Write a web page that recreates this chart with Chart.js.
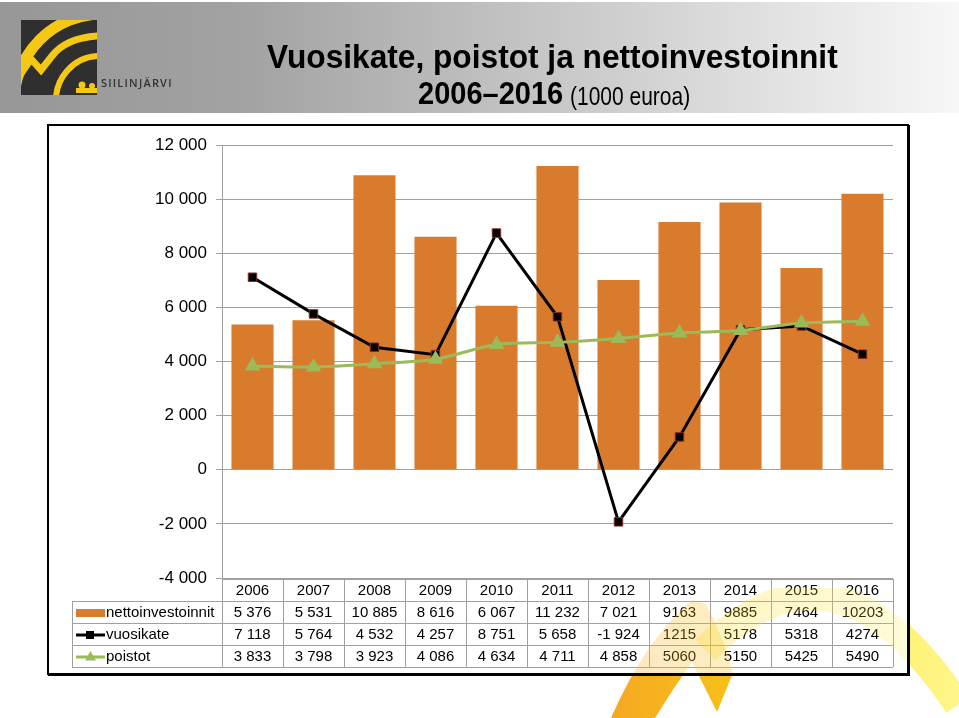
<!DOCTYPE html>
<html>
<head>
<meta charset="utf-8">
<script src="https://cdn.jsdelivr.net/npm/chart.js@4/dist/chart.umd.min.js"></script>
<style>
  body { margin: 0; width: 959px; height: 718px; position: relative; overflow: hidden; background: #fff; font-family: 'Liberation Sans', Arial, sans-serif; }
  #header { position: absolute; left: 0; top: 2px; width: 959px; height: 111px;
    background: linear-gradient(to right, #979797 0%, #a2a2a2 25%, #c4c4c4 55%, #e6e6e6 85%, #f7f7f7 100%); }
  #deco, #overlay { position: absolute; left: 0; top: 0; pointer-events: none; }
  .tt { position: absolute; white-space: nowrap; color: #000; transform-origin: 0 0; line-height: 1; }
  #t1 { left: 267px; top: 40px; font-size: 33px; font-weight: bold; }
  #t2 { left: 418px; top: 77px; font-size: 32px; font-weight: bold; }
  #t3 { left: 570px; top: 84px; font-size: 25px; }
  #box { position: absolute; left: 47px; top: 124px; width: 862px; height: 551px; box-sizing: border-box;
    border: 2px solid #000; box-shadow: 1px 1px 0 #000; background: #fff; }
  #chartWrap { position: relative; width: 858px; height: 547px; }
</style>
</head>
<body>
<div id="header"></div>
<canvas id="deco" width="959" height="718"></canvas>
<div id="t1" class="tt" data-w="571">Vuosikate, poistot ja nettoinvestoinnit</div>
<div id="t2" class="tt" data-w="145">2006–2016</div>
<div id="t3" class="tt" data-w="120">(1000 euroa)</div>
<div id="box"><div id="chartWrap"><canvas id="chart"></canvas></div></div>
<canvas id="overlay" width="959" height="718"></canvas>
<script>
const years = ['2006', '2007', '2008', '2009', '2010', '2011', '2012', '2013', '2014', '2015', '2016'];
const nettoinvestoinnit = [5376, 5531, 10885, 8616, 6067, 11232, 7021, 9163, 9885, 7464, 10203];
const vuosikate = [7118, 5764, 4532, 4257, 8751, 5658, -1924, 1215, 5178, 5318, 4274];
const poistot = [3833, 3798, 3923, 4086, 4634, 4711, 4858, 5060, 5150, 5425, 5490];
const yMin = -4000, yMax = 12000, yStep = 2000;

const barColor = '#d87b2d';
const lineBlack = '#000000';
const lineGreen = '#9bbb59';
const gridColor = '#a0a0a0';

// title in the original is a condensed face, squeeze ours to the same widths
document.querySelectorAll('.tt').forEach(el => {
    const target = parseFloat(el.dataset.w);
    el.style.transform = 'scaleX(' + (target / el.offsetWidth) + ')';
});

// "5 376" style grouping; the source table drops the space from 2013 on
function spaced(v) {
    const s = String(Math.abs(v)).replace(/\B(?=(\d{3})+(?!\d))/g, ' ');
    return (v < 0 ? '-' : '') + s;
}
function cellText(v, i) {
    return i >= 7 ? String(v) : spaced(v);
}

// Logo in the header
(function drawLogo() {
    const c = document.getElementById('deco').getContext('2d');
    const yellow = '#f5c815';
    c.save();
    c.fillStyle = '#2f2f2f';
    c.fillRect(21, 20, 76, 75);
    c.beginPath();
    c.rect(21, 20, 76, 75);
    c.clip();
    c.strokeStyle = yellow;
    c.lineWidth = 11;
    c.beginPath();
    c.arc(102, 102, 88, Math.PI, Math.PI * 1.5);
    c.stroke();
    c.lineWidth = 7;
    c.lineJoin = 'miter';
    c.beginPath();
    c.moveTo(18, 78); c.lineTo(31, 59); c.lineTo(41, 70); c.lineTo(52, 56);
    c.quadraticCurveTo(66, 38, 98, 36);
    c.stroke();
    c.lineWidth = 6;
    c.beginPath();
    c.arc(100, 100, 44, Math.PI * 0.98, Math.PI * 1.52);
    c.stroke();
    c.fillStyle = yellow;
    c.beginPath();
    c.arc(82, 85, 3.5, 0, Math.PI * 2);
    c.fill();
    c.fillRect(76, 88, 21, 5);
    c.beginPath();
    c.arc(92, 86, 3, 0, Math.PI * 2);
    c.fill();
    c.restore();
    c.fillStyle = '#333';
    c.font = '600 11px "Open Sans", sans-serif';
    c.letterSpacing = '1.2px';
    c.fillText('SIILINJÄRVI', 101, 87);
})();

// Yellow/orange swoosh at bottom right (faint where it crosses the table)
(function drawSwoosh() {
    const c = document.getElementById('overlay').getContext('2d');
    function shapes() {
        const g = c.createLinearGradient(600, 0, 740, 0);
        g.addColorStop(0, '#f5a623');
        g.addColorStop(1, '#f7c21a');
        c.fillStyle = g;
        c.beginPath();
        c.moveTo(611, 718);
        c.quadraticCurveTo(645, 640, 692, 600);
        c.lineTo(706, 604);
        c.quadraticCurveTo(725, 640, 733, 673);
        c.lineTo(717, 712);
        c.lineTo(692, 662);
        c.quadraticCurveTo(672, 690, 655, 718);
        c.closePath();
        c.fill();
        const g2 = c.createLinearGradient(700, 0, 958, 0);
        g2.addColorStop(0, 'rgba(250,215,20,0.95)');
        g2.addColorStop(1, 'rgba(255,240,60,0.6)');
        c.strokeStyle = g2;
        c.lineWidth = 28;
        c.beginPath();
        c.moveTo(705, 650);
        c.quadraticCurveTo(835, 520, 958, 705);
        c.stroke();
    }
    // outside the chart box
    c.save();
    c.beginPath();
    c.rect(0, 0, 959, 718);
    c.rect(910, 124, -864, 552);
    c.clip('evenodd');
    shapes();
    c.restore();
    // faint inside the table area
    c.save();
    c.beginPath();
    c.rect(49, 588, 858, 85);
    c.clip();
    c.globalAlpha = 0.28;
    shapes();
    c.restore();
})();

// Data table under the plot, aligned with the category scale
const dataTable = {
    id: 'dataTable',
    afterDraw(chart) {
        const { ctx, chartArea } = chart;
        const x = chart.scales.x;
        const colW = x.getPixelForValue(1) - x.getPixelForValue(0);
        const left = chartArea.left;
        const right = left + colW * years.length;
        const top = chartArea.bottom + 1;
        const rowH = 22;
        const legendLeft = 23;
        const bottom = top + rowH * 4;

        ctx.save();
        ctx.strokeStyle = gridColor;
        ctx.lineWidth = 1;
        ctx.beginPath();
        ctx.moveTo(left, top + 0.5); ctx.lineTo(right, top + 0.5);
        for (let r = 1; r <= 4; r++) {
            const y = Math.round(top + r * rowH) + 0.5;
            ctx.moveTo(legendLeft, y); ctx.lineTo(right, y);
        }
        ctx.moveTo(legendLeft + 0.5, top + rowH); ctx.lineTo(legendLeft + 0.5, bottom);
        for (let k = 0; k <= years.length; k++) {
            const xx = Math.round(left + k * colW) + 0.5;
            ctx.moveTo(xx, top); ctx.lineTo(xx, bottom);
        }
        ctx.stroke();

        ctx.fillStyle = '#000';
        ctx.font = '15px "Liberation Sans", Arial, sans-serif';
        ctx.textAlign = 'center';
        ctx.textBaseline = 'middle';
        const rows = [years, nettoinvestoinnit.map(cellText), vuosikate.map(cellText), poistot.map(cellText)];
        rows.forEach((row, r) => {
            const cy = top + r * rowH + rowH / 2 + 1;
            row.forEach((t, i) => ctx.fillText(t, x.getPixelForValue(i), cy));
        });

        // legend keys
        const names = chart.data.datasets.map(d => d.label);
        ctx.textAlign = 'left';
        names.forEach((name, r) => {
            const cy = top + (r + 1) * rowH + rowH / 2 + 1;
            const ds = chart.data.datasets[r];
            if (ds.type === 'bar') {
                ctx.fillStyle = barColor;
                ctx.fillRect(27, cy - 4, 29, 8);
            } else {
                ctx.strokeStyle = ds.borderColor;
                ctx.lineWidth = 3;
                ctx.beginPath();
                ctx.moveTo(27, cy); ctx.lineTo(56, cy);
                ctx.stroke();
                ctx.fillStyle = ds.pointBackgroundColor;
                ctx.beginPath();
                if (ds.pointStyle === 'rect') {
                    ctx.rect(37, cy - 4, 8, 8);
                } else {
                    ctx.moveTo(41.5, cy - 6); ctx.lineTo(47, cy + 3.5); ctx.lineTo(36, cy + 3.5); ctx.closePath();
                }
                ctx.fill();
            }
            ctx.fillStyle = '#000';
            ctx.fillText(name, 57, cy);
        });
        ctx.restore();
    }
};

const ctx = document.getElementById('chart').getContext('2d');
new Chart(ctx, {
    data: {
        labels: years,
        datasets: [
            {
                type: 'bar',
                label: 'nettoinvestoinnit',
                data: nettoinvestoinnit,
                backgroundColor: barColor,
                barPercentage: 0.69,
                categoryPercentage: 1,
                order: 3
            },
            {
                type: 'line',
                label: 'vuosikate',
                data: vuosikate,
                borderColor: lineBlack,
                borderWidth: 3,
                pointStyle: 'rect',
                pointRadius: 6,
                pointBackgroundColor: '#000',
                pointBorderColor: '#8b2a2a',
                pointBorderWidth: 1,
                tension: 0,
                order: 2
            },
            {
                type: 'line',
                label: 'poistot',
                data: poistot,
                borderColor: lineGreen,
                borderWidth: 3,
                pointStyle: 'triangle',
                pointRadius: 6,
                pointBackgroundColor: lineGreen,
                pointBorderColor: lineGreen,
                tension: 0.3,
                order: 1
            }
        ]
    },
    options: {
        responsive: true,
        maintainAspectRatio: false,
        animation: false,
        layout: {
            padding: { left: 0, top: 17, right: 14, bottom: 95 }
        },
        plugins: {
            legend: { display: false },
            tooltip: { enabled: false }
        },
        scales: {
            x: {
                display: false,
                offset: true
            },
            y: {
                min: yMin,
                max: yMax,
                afterFit: function(scale) {
                    scale.width = 173;
                },
                ticks: {
                    stepSize: yStep,
                    padding: 9,
                    color: '#000',
                    font: { size: 17, family: '"Liberation Sans", Arial, sans-serif' },
                    callback: function(value) {
                        return spaced(value);
                    }
                },
                grid: {
                    color: gridColor,
                    lineWidth: 1,
                    tickLength: 6
                },
                border: { color: gridColor }
            }
        }
    },
    plugins: [dataTable]
});
</script>
</body>
</html>
